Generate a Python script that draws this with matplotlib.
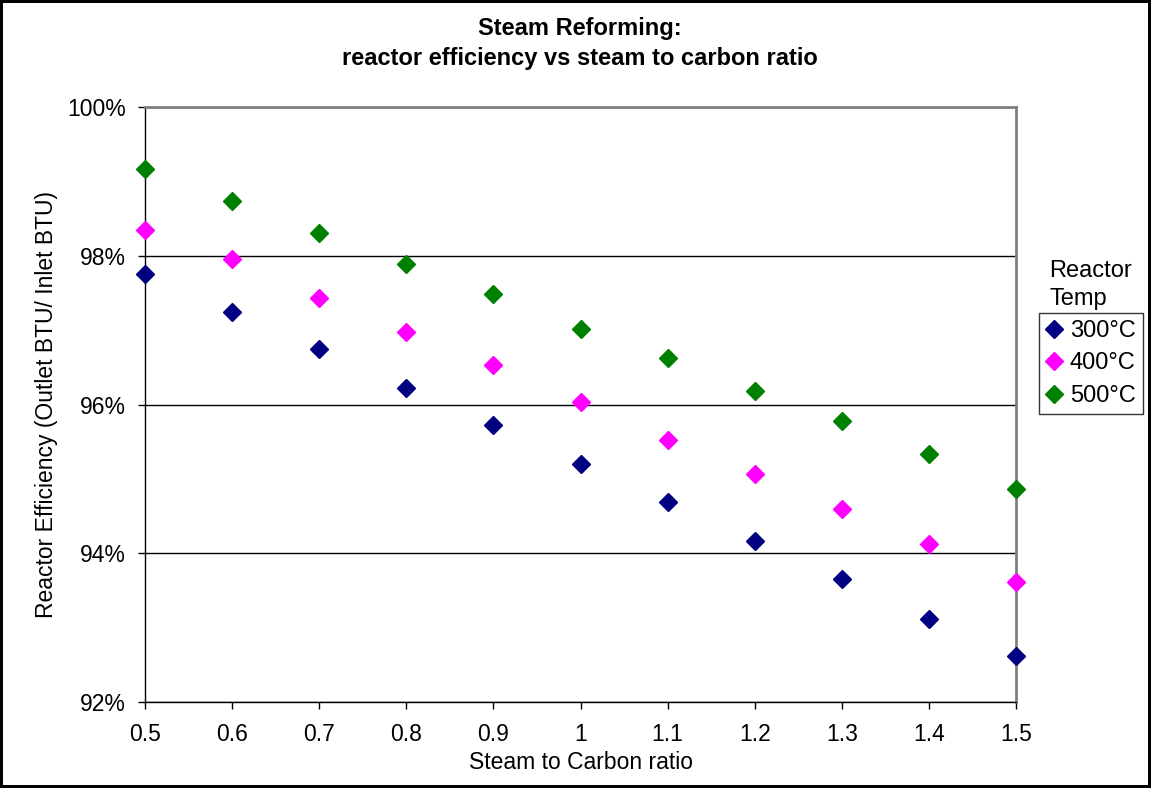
import matplotlib.pyplot as plt
from matplotlib.ticker import PercentFormatter

plt.rcParams['font.family'] = ['Liberation Sans', 'DejaVu Sans']

# steam to carbon ratio on the x axis
ratio = [0.5, 0.6, 0.7, 0.8, 0.9, 1.0, 1.1, 1.2, 1.3, 1.4, 1.5]

# reactor efficiency (%) for each reactor temperature
eff_300 = [97.76, 97.24, 96.74, 96.22, 95.73, 95.20, 94.69, 94.17, 93.66, 93.11, 92.62]
eff_400 = [98.35, 97.95, 97.43, 96.97, 96.53, 96.04, 95.52, 95.06, 94.60, 94.13, 93.61]
eff_500 = [99.16, 98.73, 98.30, 97.89, 97.48, 97.01, 96.62, 96.18, 95.78, 95.33, 94.86]

temps = ["300°C", "400°C", "500°C"]
colors = ["#000080", "#FF00FF", "#008000"]

fig = plt.figure(figsize=(11.51, 7.88), dpi=100)
fig.patch.set_edgecolor("black")
fig.patch.set_linewidth(3)
ax = fig.add_axes([0.126, 0.1091, 0.7567, 0.7551])

for vals, lab, col in zip([eff_300, eff_400, eff_500], temps, colors):
    ax.plot(ratio, vals, linestyle="none", marker="D", markersize=8.7,
            color=col, label=lab, clip_on=False, zorder=3)

ax.set_xlim(0.5, 1.5)
ax.set_ylim(92, 100)
ax.set_xticks(ratio)
ax.set_xticklabels(["0.5", "0.6", "0.7", "0.8", "0.9", "1", "1.1", "1.2", "1.3", "1.4", "1.5"])
ax.set_yticks([92, 94, 96, 98, 100])
ax.yaxis.set_major_formatter(PercentFormatter(decimals=0))
ax.tick_params(axis="both", direction="out", length=5, width=1, colors="black",
               labelsize=16.5)
ax.tick_params(axis="x", pad=10)
ax.tick_params(axis="y", pad=9)
ax.yaxis.grid(True, color="black", linewidth=1)
ax.set_axisbelow(True)

for side in ["left", "bottom"]:
    ax.spines[side].set_color("black")
    ax.spines[side].set_linewidth(1)
for side in ["top", "right"]:
    ax.spines[side].set_color("#808080")
    ax.spines[side].set_linewidth(2)

ax.set_xlabel("Steam to Carbon ratio", fontsize=16.5, labelpad=4)
ax.set_ylabel("Reactor Efficiency (Outlet BTU/ Inlet BTU)", fontsize=16.5, labelpad=6)

fig.text(580 / 1151, 1 - 28 / 788, "Steam Reforming:", ha="center", va="center",
         fontsize=17, fontweight="bold")
fig.text(580 / 1151, 1 - 58 / 788, "reactor efficiency vs steam to carbon ratio",
         ha="center", va="center", fontsize=17, fontweight="bold")

# legend with its heading sitting above the box
fig.text(1049 / 1151, 1 - 271 / 788, "Reactor", ha="left", va="center", fontsize=17)
fig.text(1049 / 1151, 1 - 299 / 788, "Temp", ha="left", va="center", fontsize=17)
leg = fig.legend(loc="upper left", bbox_to_anchor=(1039 / 1151, 1 - 313 / 788),
                 fontsize=17, frameon=True, fancybox=False, handlelength=0.7,
                 handletextpad=0.3, borderpad=0.3, labelspacing=0.44,
                 borderaxespad=0, markerscale=1.0)
leg.get_frame().set_edgecolor("black")
leg.get_frame().set_linewidth(1)

fig.savefig("out.png", dpi=100)
